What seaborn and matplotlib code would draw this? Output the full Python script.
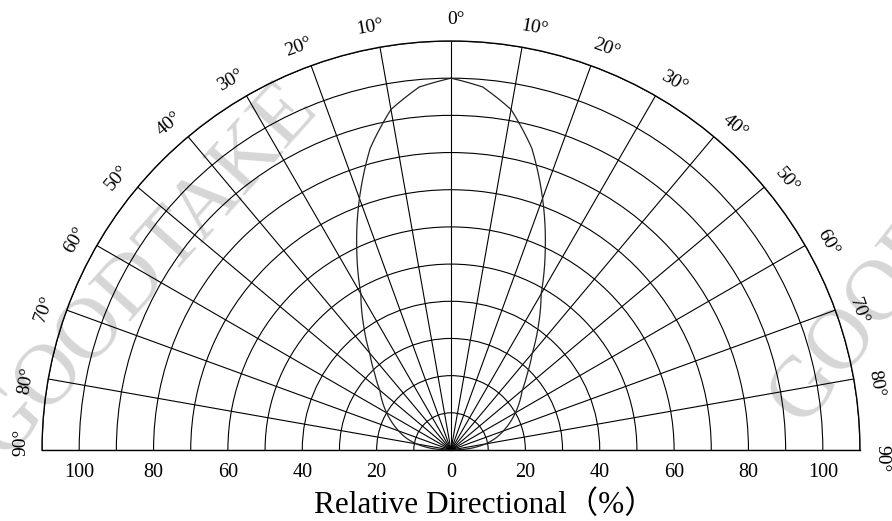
import numpy as np
import matplotlib
matplotlib.use("Agg")
import matplotlib.pyplot as plt
import seaborn as sns

# ---------------- data ----------------
angles_deg = [-90, -85, -80, -75, -70, -65, -60, -55, -50, -45, -40, -35, -30, -25, -20, -15, -10, -5,
              0, 5, 10, 15, 20, 25, 30, 35, 40, 45, 50, 55, 60, 65, 70, 75, 80, 85, 90]
intensity = [0, 5.5, 9.5, 12.5, 15, 17.5, 20, 22.5, 25, 29, 34, 41, 48.5, 60, 72, 84, 93, 98,
             100, 98, 93, 84, 72, 60, 48.5, 41, 34, 29, 25, 22.5, 20, 17.5, 15, 12.5, 9.5, 5.5, 0]
radial_grid = [10, 20, 30, 40, 50, 60, 70, 80, 90, 100, 110]
radial_labels = [0, 20, 40, 60, 80, 100]
angle_grid = [-90, -80, -70, -60, -50, -40, -30, -20, -10, 0, 10, 20, 30, 40, 50, 60, 70, 80, 90]
angle_labels = ["90°", "80°", "70°", "60°", "50°", "40°", "30°", "20°", "10°", "0°",
                "10°", "20°", "30°", "40°", "50°", "60°", "70°", "80°", "90°"]
x_label = "Relative Directional（%）"
watermark = "GOODTAKE"

# ---------------- figure ----------------
sns.set_theme(style="white")
plt.rcParams["font.family"] = ["Liberation Serif", "Noto Sans CJK SC", "DejaVu Sans"]

W, H = 892, 521
fig = plt.figure(figsize=(W / 100, H / 100), dpi=100)
fig.patch.set_facecolor("white")

# polar half-disc: centre (451, 450) px, radius 409 px
cx, cy, R = 451, 450, 409
S = 2 * R
ax = fig.add_axes([(cx - R) / W, (H - cy - R / 2) / H, S / W, S / H], projection="polar")
ax.set_theta_zero_location("N")
ax.set_theta_direction(-1)
ax.set_thetamin(-90)
ax.set_thetamax(90)
ax.set_rlim(0, 110)
ax.set_facecolor("none")

ax.set_rticks(radial_grid)
ax.set_yticklabels([])
ax.set_xticks(np.deg2rad(angle_grid))
ax.set_xticklabels([])
ax.tick_params(length=0, pad=0)
ax.grid(True, color="black", linewidth=0.8)
for name, sp in ax.spines.items():
    sp.set_color("black")
    sp.set_linewidth(1.0)

# lobe (drawn along polar arcs between the read points)
sns.lineplot(x=np.deg2rad(angles_deg), y=intensity, ax=ax, sort=False, estimator=None,
             color="#222222", linewidth=0.9)
for ln in ax.lines:
    ln.get_path()._interpolation_steps = 24
ax.set_xlabel("")
ax.set_ylabel("")

# angle labels
for a, lab in zip(angle_grid, angle_labels):
    if a > 0:
        t = a + 1.2
    elif a < 0:
        t = a - 0.8 if a != -90 else a + 1.0
    else:
        t = 0.6
    ax.text(np.deg2rad(t), 115.8, lab, rotation=-a, rotation_mode="anchor",
            ha="center", va="center", fontsize=14, color="black",
            family=["Liberation Serif", "DejaVu Sans"])

# radial labels along the baseline
for v in radial_labels:
    sides = [90] if v == 0 else [-90, 90]
    for s in sides:
        ax.annotate(str(v), xy=(np.deg2rad(s), v), xytext=(0, -16),
                    textcoords="offset points", ha="center", va="center",
                    fontsize=14.5, color="black", family="Liberation Serif",
                    annotation_clip=False)

# axis title
fig.text(485 / W, 1 - 505 / H, x_label, ha="center", va="center", fontsize=22.5,
         color="black", family=["Liberation Serif", "Noto Sans CJK SC"])

# watermarks
fig.text(-12 / W, 1 - 445 / H, watermark, rotation=48, rotation_mode="anchor",
         ha="left", va="center", fontsize=62, color="#d6d6d6",
         family="Liberation Serif", zorder=-1)
fig.text(786 / W, 1 - 414 / H, watermark, rotation=52, rotation_mode="anchor",
         ha="left", va="center", fontsize=62, color="#d6d6d6",
         family="Liberation Serif", zorder=-1)

fig.savefig("out.png", dpi=100, facecolor="white")
